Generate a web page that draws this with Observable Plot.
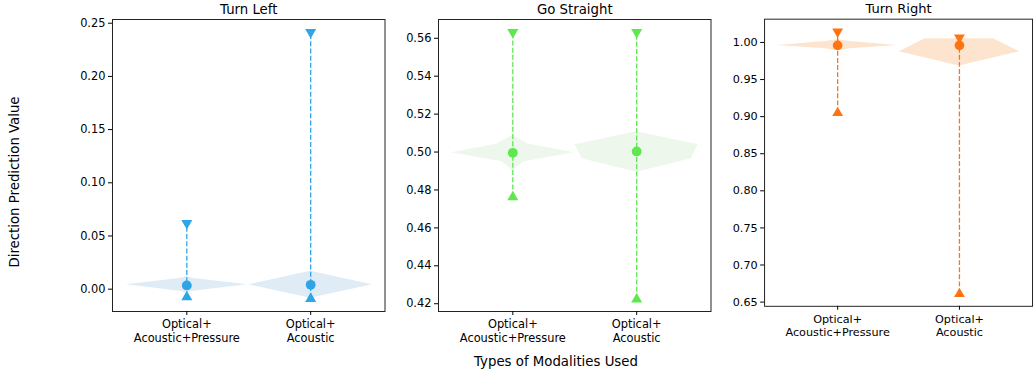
<!DOCTYPE html>
<html><head><meta charset="utf-8">
<script src="https://cdn.jsdelivr.net/npm/d3@7"></script>
<script src="https://cdn.jsdelivr.net/npm/@observablehq/plot@0.6"></script>
<style>
body{margin:0;background:#fff;font-family:"DejaVu Sans",sans-serif;}
#wrap{position:relative;width:1034px;height:379px;overflow:hidden;background:#fff;}
.panel{position:absolute;top:0;}
.panel svg{overflow:visible;}
#xlab{position:absolute;left:456px;width:200px;top:353px;text-align:center;font-size:13.3px;line-height:18px;color:#000;white-space:nowrap;}
#ylab{position:absolute;left:14px;top:182px;transform:translate(-50%,-50%) rotate(-90deg);font-size:13.3px;white-space:nowrap;color:#000;}
</style>
</head><body>
<div id="wrap">
  <div id="ylab">Direction Prediction Value</div>
  <div id="xlab">Types of Modalities Used</div>
</div>
<script>
// ---- data ----
const panelTitles = ["Turn Left", "Go Straight", "Turn Right"];
const categories = ["Optical+\nAcoustic+Pressure", "Optical+\nAcoustic"];
const maxValues = [[0.062, 0.2416], [0.5632, 0.5632], [1.0146, 1.0066]];
const medianValues = [[0.0035, 0.0041], [0.4996, 0.5003], [0.9960, 0.9960]];
const minValues = [[-0.0075, -0.009], [0.4762, 0.4223], [0.905, 0.661]];
// violin profiles: [value, half-width]
const violinTurnLeft = [
  [[-0.004, 0], [-0.0022, 0.04], [0.0041, 0.49], [0.0103, 0.04], [0.0119, 0]],
  [[-0.0085, 0], [0.0041, 0.498], [0.0169, 0]]
];
const violinGoStraight = [
  [[0.4903, 0], [0.4949, 0.09], [0.4996, 0.496], [0.5041, 0.13], [0.5087, 0]],
  [[0.4894, 0], [0.4965, 0.44], [0.5038, 0.497], [0.5107, 0]]
];
const violinTurnRight = [
  [[0.989, 0], [0.9916, 0.1], [0.996, 0.494], [1.0013, 0.1], [1.0036, 0]],
  [[0.9682, 0], [0.9875, 0.494], [1.0049, 0.28]]
];
const violins = [violinTurnLeft, violinGoStraight, violinTurnRight];
const yTickValues = [
  [0, 0.05, 0.10, 0.15, 0.20, 0.25],
  [0.42, 0.44, 0.46, 0.48, 0.50, 0.52, 0.54, 0.56],
  [0.65, 0.70, 0.75, 0.80, 0.85, 0.90, 0.95, 1.00]
];
const yLimits = [[-0.021, 0.2535], [0.4159, 0.5699], [0.6443, 1.0314]];
const lineColors = ["#2fa4e7", "#5de84e", "#ff7410"];
const fillColors = ["#dfecf6", "#edf7eb", "#fde4ce"];
const frameLefts = [112, 438, 765];

// ---- drawing ----
const wrap = document.getElementById("wrap");
const mL = 56, frameW = 272.5;
panelTitles.forEach((title, i) => {
  const summary = categories.map((c, j) => ({pos: j + 1, max: maxValues[i][j], med: medianValues[i][j], min: minValues[i][j]}));
  const vdata = [];
  violins[i].forEach((prof, j) => prof.forEach(([v, hw]) => vdata.push({pos: j + 1, v, hw})));
  const col = lineColors[i];
  const plot = Plot.plot({
    width: mL + frameW + 2, height: 379,
    marginLeft: mL, marginRight: 2, marginTop: 19, marginBottom: 68,
    style: {fontFamily: "DejaVu Sans", fontSize: "11.4px", color: "#000", background: "transparent", overflow: "visible"},
    x: {domain: [0.4, 2.6], label: null},
    y: {domain: yLimits[i], label: null},
    marks: [
      Plot.areaX(vdata, {y: "v", x1: d => d.pos - d.hw, x2: d => d.pos + d.hw, z: "pos", fill: fillColors[i], curve: "linear"}),
      Plot.ruleX(summary, {x: "pos", y1: "min", y2: "max", stroke: col, strokeWidth: 1.3, strokeDasharray: "5,2.2"}),
      Plot.dot(summary, {x: "pos", y: "max", symbol: "triangle", rotate: 180, r: 4.1, fill: col}),
      Plot.dot(summary, {x: "pos", y: "min", symbol: "triangle", r: 4.1, fill: col}),
      Plot.dot(summary, {x: "pos", y: "med", r: 4.9, fill: col}),
      Plot.frame({stroke: "#222", strokeWidth: 1}),
      Plot.axisX({ticks: [1, 2], tickFormat: d => categories[d - 1], tickSize: 4, tickPadding: 3, lineHeight: 1.2, stroke: "#000", fill: "#000", label: null}),
      Plot.axisY({ticks: yTickValues[i], tickFormat: d3.format(".2f"), tickSize: 4, tickPadding: 3, stroke: "#000", fill: "#000", label: null}),
      Plot.text([title], {frameAnchor: "top", dy: -6, lineAnchor: "bottom", fontSize: 13.3, text: d => d, fill: "#000"})
    ]
  });
  const div = document.createElement("div");
  div.className = "panel";
  div.style.left = (frameLefts[i] - mL) + "px";
  div.appendChild(plot);
  wrap.appendChild(div);
});
</script>
</body></html>
